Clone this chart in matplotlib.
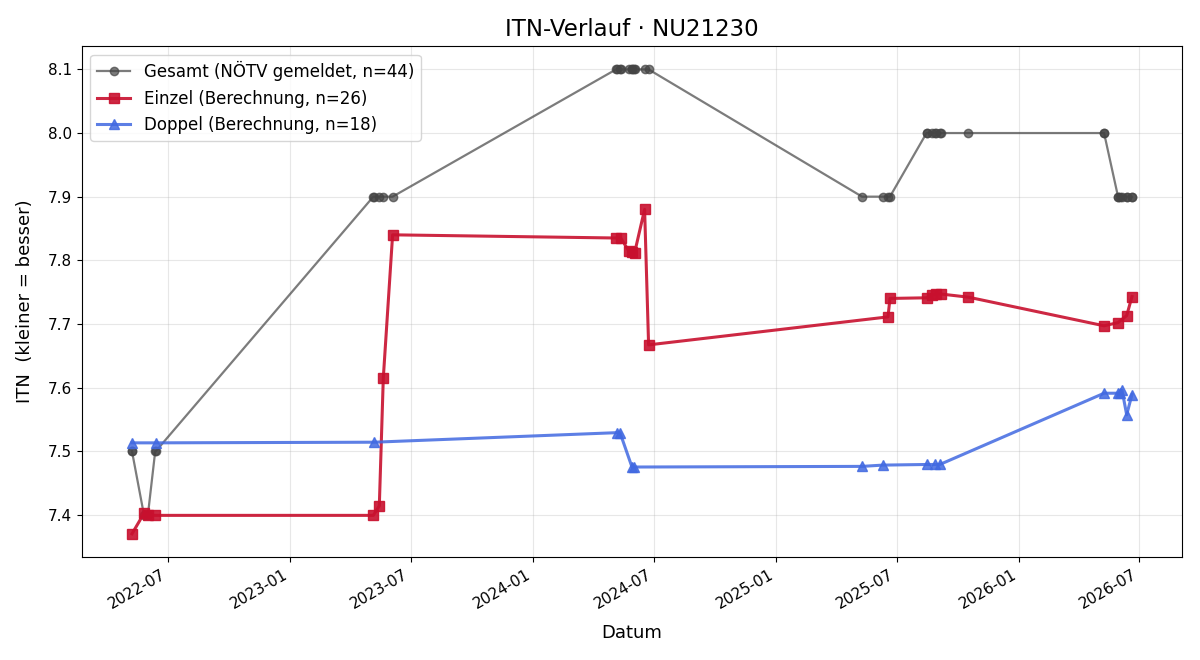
import matplotlib
matplotlib.use("Agg")
import matplotlib.pyplot as plt
import matplotlib.dates as mdates
import pandas as pd

gesamt_dates = [
    "2022-05-08", "2022-05-08", "2022-05-26", "2022-06-01", "2022-06-12", "2022-06-13",
    "2023-05-06", "2023-05-07", "2023-05-15", "2023-05-21", "2023-06-04",
    "2024-05-05", "2024-05-06", "2024-05-11", "2024-05-12", "2024-05-24", "2024-05-29",
    "2024-05-29", "2024-06-01", "2024-06-02", "2024-06-17", "2024-06-23",
    "2025-05-10", "2025-06-10", "2025-06-18", "2025-06-21", "2025-08-15", "2025-08-15",
    "2025-08-23", "2025-08-27", "2025-08-29", "2025-09-04", "2025-09-05", "2025-10-17",
    "2026-05-09", "2026-05-09", "2026-05-30", "2026-05-30", "2026-06-02", "2026-06-05",
    "2026-06-12", "2026-06-12", "2026-06-20", "2026-06-20",
]
gesamt_values = [
    7.5, 7.5, 7.4, 7.4, 7.5, 7.5,
    7.9, 7.9, 7.9, 7.9, 7.9,
    8.1, 8.1, 8.1, 8.1, 8.1, 8.1, 8.1, 8.1, 8.1, 8.1, 8.1,
    7.9, 7.9, 7.9, 7.9, 8.0, 8.0, 8.0, 8.0, 8.0, 8.0, 8.0, 8.0,
    8.0, 8.0, 7.9, 7.9, 7.9, 7.9, 7.9, 7.9, 7.9, 7.9,
]

einzel_dates = [
    "2022-05-08", "2022-05-26", "2022-06-01", "2022-06-12",
    "2023-05-06", "2023-05-15", "2023-05-21", "2023-06-04",
    "2024-05-05", "2024-05-12", "2024-05-24", "2024-05-29", "2024-06-02", "2024-06-17", "2024-06-23",
    "2025-06-18", "2025-06-21", "2025-08-15", "2025-08-23", "2025-08-29", "2025-09-05", "2025-10-17",
    "2026-05-09", "2026-05-30", "2026-06-12", "2026-06-20",
]
einzel_values = [
    7.370, 7.402, 7.400, 7.399,
    7.399, 7.414, 7.615, 7.840,
    7.835, 7.835, 7.815, 7.813, 7.812, 7.880, 7.667,
    7.711, 7.740, 7.741, 7.745, 7.747, 7.747, 7.742,
    7.697, 7.702, 7.713, 7.743,
]

doppel_dates = [
    "2022-05-08", "2022-06-13",
    "2023-05-07",
    "2024-05-06", "2024-05-11", "2024-05-29", "2024-06-01",
    "2025-05-10", "2025-06-10", "2025-08-15", "2025-08-27", "2025-09-04",
    "2026-05-09", "2026-05-30", "2026-06-02", "2026-06-05", "2026-06-12", "2026-06-20",
]
doppel_values = [
    7.513, 7.513,
    7.514,
    7.529, 7.529, 7.475, 7.475,
    7.476, 7.478, 7.479, 7.479, 7.479,
    7.591, 7.591, 7.592, 7.596, 7.557, 7.589,
]

fig, ax = plt.subplots(figsize=(12, 6.6), dpi=100)

ax.plot(pd.to_datetime(gesamt_dates), gesamt_values, marker="o", color="#444444",
        alpha=0.7, linewidth=1.6, markersize=6,
        label=f"Gesamt (NÖTV gemeldet, n={len(gesamt_values)})")
ax.plot(pd.to_datetime(einzel_dates), einzel_values, marker="s", color="#c8102e",
        alpha=0.9, linewidth=2.2, markersize=7,
        label=f"Einzel (Berechnung, n={len(einzel_values)})")
ax.plot(pd.to_datetime(doppel_dates), doppel_values, marker="^", color="#4169e1",
        alpha=0.85, linewidth=2.2, markersize=7,
        label=f"Doppel (Berechnung, n={len(doppel_values)})")

ax.set_title("ITN-Verlauf · NU21230", fontsize=16.5, pad=7)
ax.set_xlabel("Datum", fontsize=13, labelpad=9)
ax.set_ylabel("ITN  (kleiner = besser)", fontsize=13, labelpad=10)
ax.grid(True, alpha=0.3)
ax.xaxis.set_major_locator(mdates.MonthLocator(bymonth=[1, 7]))
ax.xaxis.set_major_formatter(mdates.DateFormatter("%Y-%m"))
ax.tick_params(labelsize=11)
ax.legend(loc="upper left", fontsize=12)
fig.autofmt_xdate()
fig.subplots_adjust(left=0.0683, right=0.985, top=0.930, bottom=0.156)
fig.savefig("out.png", dpi=100)
